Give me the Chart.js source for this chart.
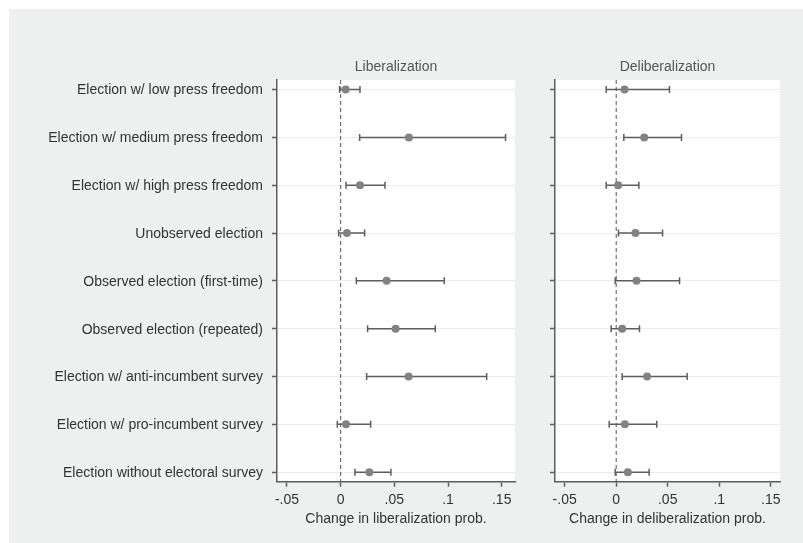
<!DOCTYPE html>
<html>
<head>
<meta charset="utf-8">
<script src="https://cdn.jsdelivr.net/npm/chart.js@4.4.1/dist/chart.umd.min.js"></script>
<style>
  html, body { margin: 0; padding: 0; background: #ffffff; }
  #page { position: relative; width: 803px; height: 543px; overflow: hidden; }
  #bg { position: absolute; left: 9px; top: 9px; width: 794px; height: 534px; background: #eef0ef; }
  .panel { position: absolute; top: 0; height: 543px; }
</style>
</head>
<body>
<div id="page">
  <div id="bg"></div>
  <div class="panel" style="left:0;width:530px"><canvas id="libChart"></canvas></div>
  <div class="panel" style="left:530px;width:273px"><canvas id="delibChart"></canvas></div>
</div>
<script>
const categories = [
  'Election w/ low press freedom',
  'Election w/ medium press freedom',
  'Election w/ high press freedom',
  'Unobserved election',
  'Observed election (first-time)',
  'Observed election (repeated)',
  'Election w/ anti-incumbent survey',
  'Election w/ pro-incumbent survey',
  'Election without electoral survey'
];
const rows = [1, 2, 3, 4, 5, 6, 7, 8, 9];

// liberalization: estimate, lower and upper bound
const libEst = [0.0047, 0.0636, 0.0180, 0.0059, 0.0428, 0.0512, 0.0633, 0.0050, 0.0267];
const libLo  = [-0.0010, 0.0177, 0.0050, -0.0019, 0.0146, 0.0251, 0.0242, -0.0031, 0.0133];
const libHi  = [0.0180, 0.1536, 0.0413, 0.0223, 0.0965, 0.0881, 0.1360, 0.0279, 0.0468];

// deliberalization
const delEst = [0.0081, 0.0272, 0.0019, 0.0187, 0.0197, 0.0058, 0.0300, 0.0084, 0.0113];
const delLo  = [-0.0097, 0.0074, -0.0097, 0.0022, -0.0010, -0.0049, 0.0058, -0.0068, -0.0010];
const delHi  = [0.0517, 0.0634, 0.0220, 0.0450, 0.0615, 0.0226, 0.0689, 0.0394, 0.0320];

const xTicks = [-0.05, 0, 0.05, 0.1, 0.15];
const xTickLabels = ['-.05', '0', '.05', '.1', '.15'];

const FONT = "'Liberation Sans', Arial, Helvetica, sans-serif";
const DARK = '#5c5d5f';
const MARK = '#808285';

// white plot region
const plotBg = {
  id: 'plotBg',
  beforeDraw(chart) {
    const a = chart.chartArea, ctx = chart.ctx;
    ctx.save();
    ctx.fillStyle = '#ffffff';
    ctx.fillRect(a.left, a.top, a.right - a.left, a.bottom - a.top);
    ctx.restore();
  }
};

function makeChart(id, opts) {
  const datasets = [];
  datasets.push({
    type: 'scatter',
    data: rows.map((r, i) => ({ x: opts.est[i], y: r })),
    pointRadius: 4,
    pointBackgroundColor: MARK,
    pointBorderColor: MARK,
    pointBorderWidth: 0,
    order: 0
  });
  const caps = [];
  rows.forEach((r, i) => {
    caps.push({ x: opts.lo[i], y: r });
    caps.push({ x: opts.hi[i], y: r });
  });
  datasets.push({
    type: 'scatter',
    data: caps,
    pointStyle: 'line',
    rotation: 90,
    pointRadius: 3.5,
    borderColor: DARK,
    borderWidth: 1.5,
    order: 1
  });
  rows.forEach((r, i) => {
    datasets.push({
      type: 'line',
      data: [{ x: opts.lo[i], y: r }, { x: opts.hi[i], y: r }],
      borderColor: DARK,
      borderWidth: 1.5,
      pointRadius: 0,
      order: 2
    });
  });
  datasets.push({
    type: 'line',
    data: [{ x: 0, y: 0.8 }, { x: 0, y: 9.2 }],
    borderColor: '#555555',
    borderWidth: 1,
    borderDash: [4, 3],
    pointRadius: 0,
    order: 3
  });

  return new Chart(document.getElementById(id), {
    data: { datasets: datasets },
    plugins: [plotBg],
    options: {
      responsive: true,
      maintainAspectRatio: false,
      animation: false,
      layout: { padding: opts.padding },
      plugins: {
        legend: { display: false },
        tooltip: { enabled: false },
        title: {
          display: true,
          text: opts.title,
          fullSize: false,
          color: '#555555',
          font: { family: FONT, size: 14, weight: 'normal' },
          padding: { top: 58.3, bottom: 4.9 }
        }
      },
      scales: {
        x: {
          type: 'linear',
          min: opts.xmin,
          max: opts.xmax,
          afterBuildTicks: s => { s.ticks = xTicks.map(v => ({ value: v })); },
          afterFit: s => { s.height = 46.3; },
          ticks: {
            color: '#333333',
            font: { family: FONT, size: 14 },
            padding: 5,
            maxRotation: 0,
            callback: v => xTickLabels[xTicks.indexOf(v)]
          },
          grid: { drawOnChartArea: false, drawTicks: true, tickLength: 5, tickColor: DARK, tickWidth: 1.5 },
          border: { display: true, color: DARK, width: 1.5 },
          title: {
            display: true,
            text: opts.xTitle,
            color: '#333333',
            font: { family: FONT, size: 14 },
            padding: { top: 3, bottom: 0 }
          }
        },
        y: {
          type: 'linear',
          reverse: true,
          min: 0.8,
          max: 9.2,
          afterBuildTicks: s => { s.ticks = rows.map(v => ({ value: v })); },
          afterFit: s => { s.width = opts.yWidth; },
          ticks: {
            color: '#333333',
            font: { family: FONT, size: 14 },
            padding: 9,
            labelOffset: 1,
            callback: v => opts.showLabels ? categories[rows.indexOf(v)] : ''
          },
          grid: { color: '#ececec', lineWidth: 1, drawTicks: true, tickLength: 5, tickColor: DARK, tickWidth: 1.5 },
          border: { display: true, color: DARK, width: 1.5 }
        }
      }
    }
  });
}

makeChart('libChart', {
  title: 'Liberalization',
  xTitle: 'Change in liberalization prob.',
  est: libEst, lo: libLo, hi: libHi,
  xmin: -0.0593, xmax: 0.1624,
  yWidth: 277,
  showLabels: true,
  padding: { left: 0, right: 15, top: 0, bottom: 15 }
});

makeChart('delibChart', {
  title: 'Deliberalization',
  xTitle: 'Change in deliberalization prob.',
  est: delEst, lo: delLo, hi: delHi,
  xmin: -0.0594, xmax: 0.159,
  yWidth: 25,
  showLabels: false,
  padding: { left: 0, right: 23, top: 0, bottom: 15 }
});
</script>
</body>
</html>
